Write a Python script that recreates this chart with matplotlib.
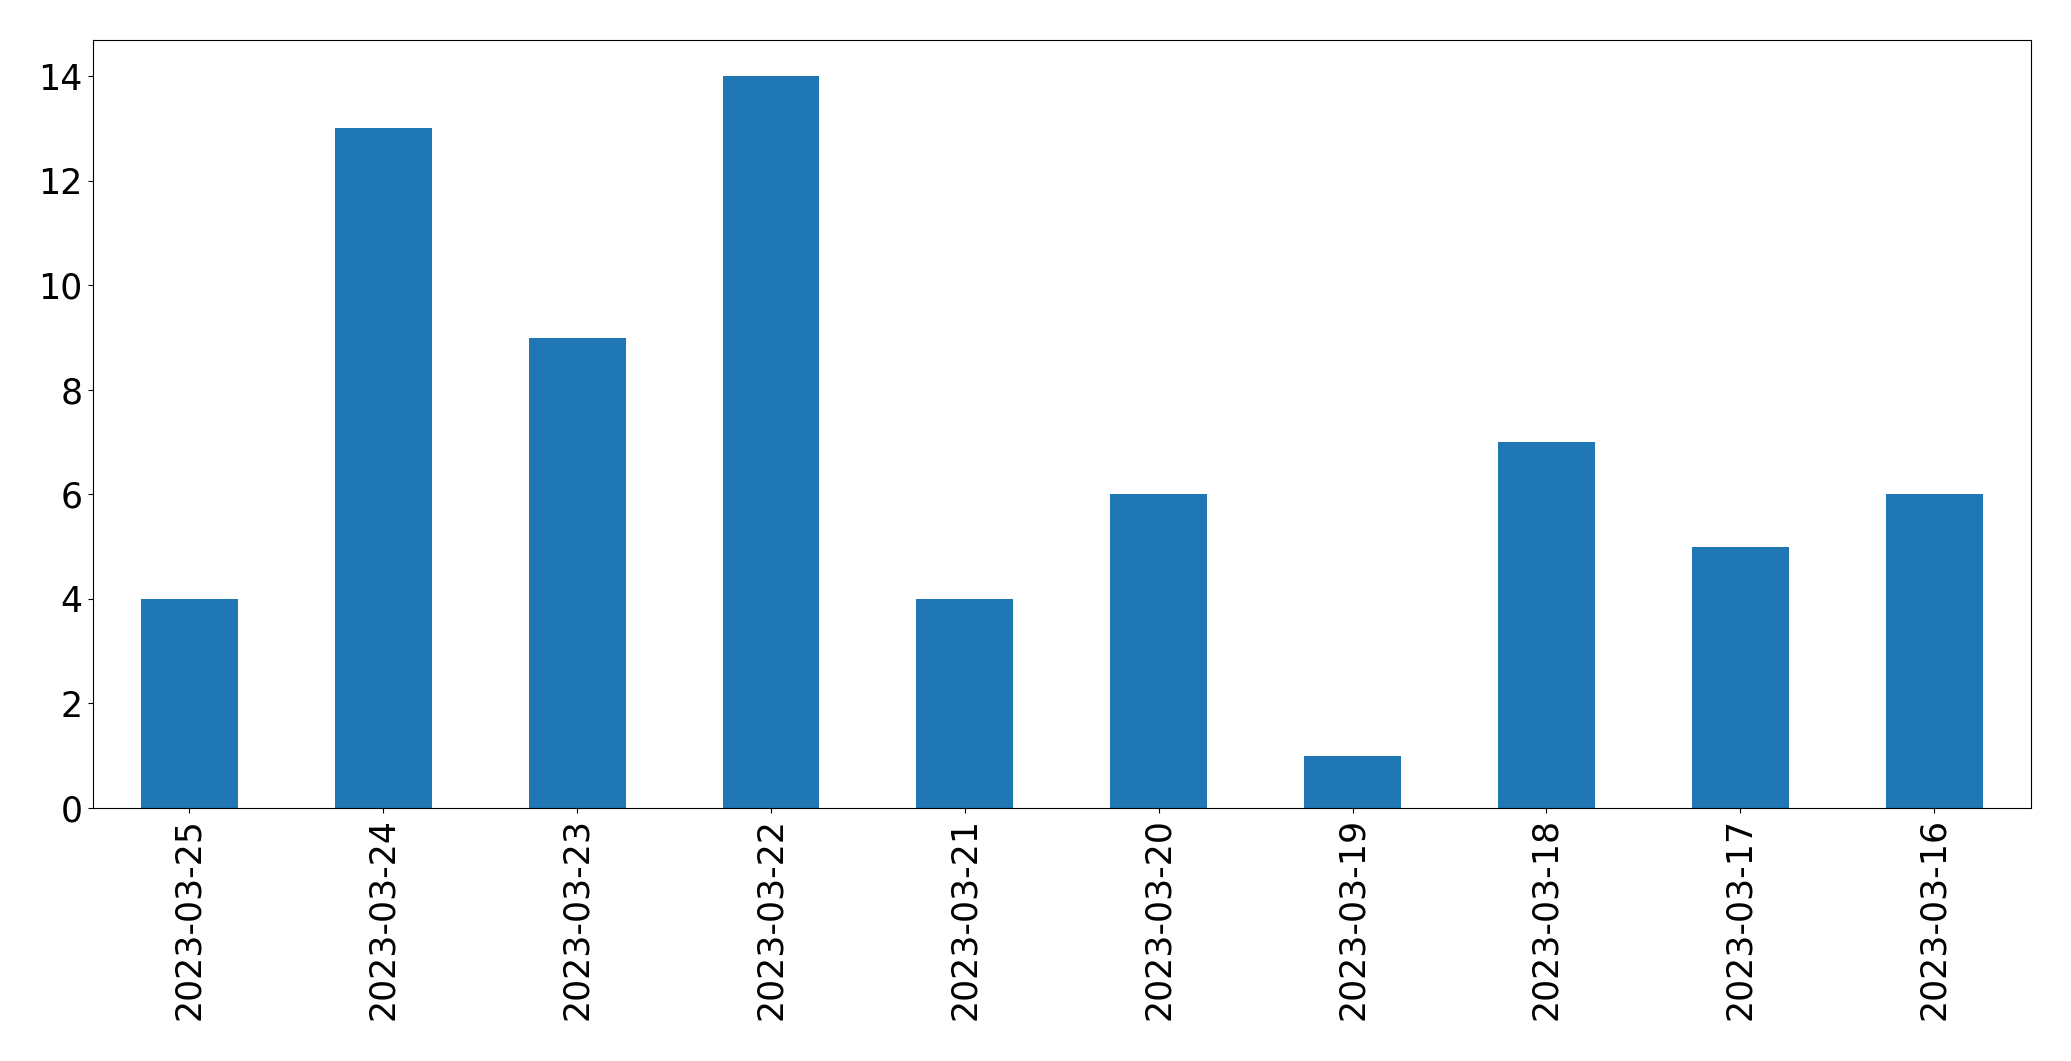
import pandas as pd
import matplotlib.pyplot as plt

dates = ['2023-03-25', '2023-03-24', '2023-03-23', '2023-03-22', '2023-03-21',
         '2023-03-20', '2023-03-19', '2023-03-18', '2023-03-17', '2023-03-16']
counts = [4, 13, 9, 14, 4, 6, 1, 7, 5, 6]

s = pd.Series(counts, index=dates)

fig, ax = plt.subplots(figsize=(20.71, 10.61), dpi=100)
s.plot(kind='bar', ax=ax, color='#1f77b4')
ax.tick_params(axis='both', labelsize=25)
fig.subplots_adjust(left=0.0447, right=0.9807, top=0.9627, bottom=0.2385)

plt.savefig('out.png', dpi=100)
